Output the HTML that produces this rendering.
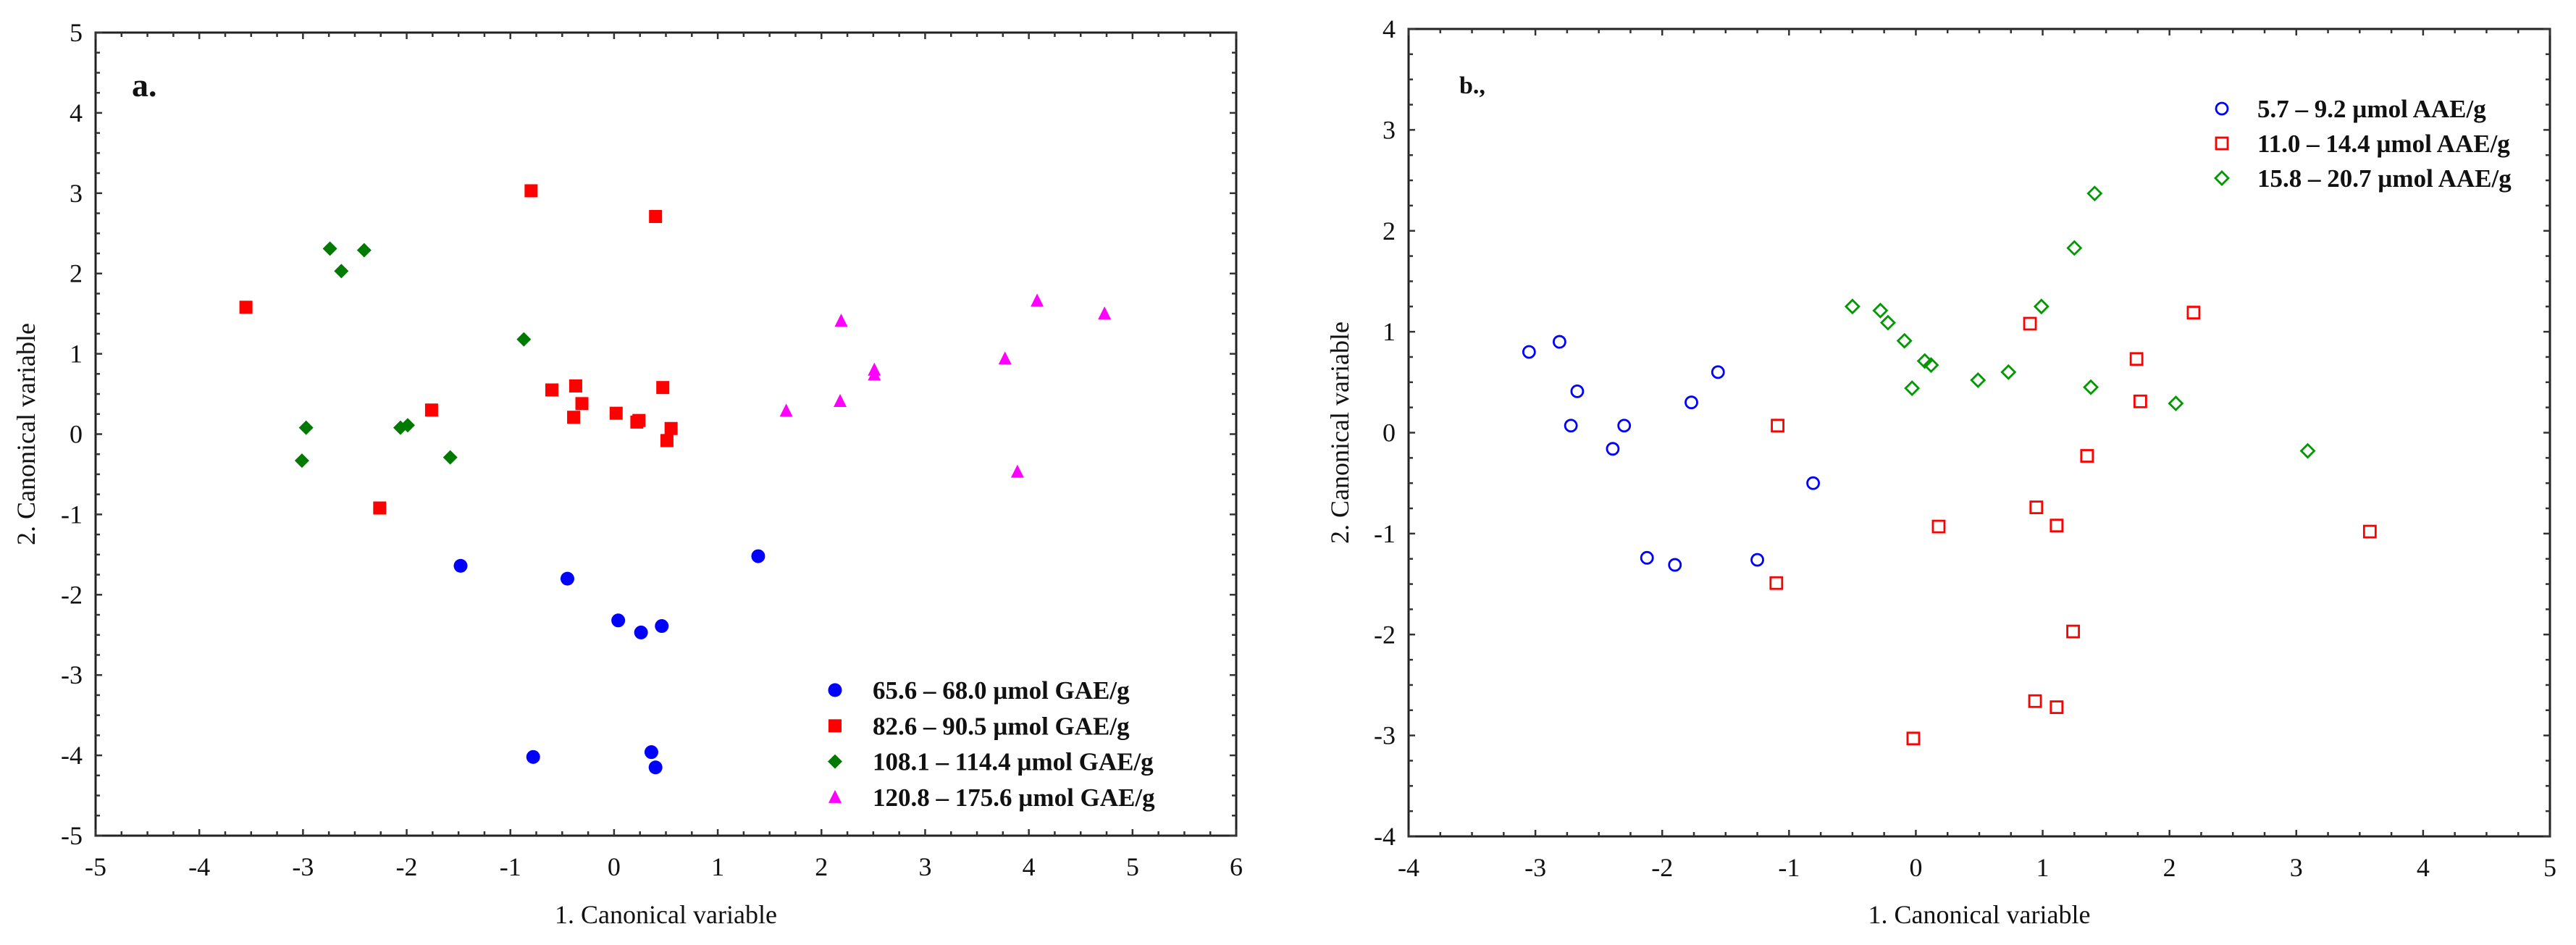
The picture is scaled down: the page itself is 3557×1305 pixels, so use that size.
<!DOCTYPE html>
<html><head><meta charset="utf-8"><style>
html,body{margin:0;padding:0;background:#fff}
svg{display:block}
text{font-family:"Liberation Serif",serif;fill:#111}
</style></head><body>
<svg id="chart" width="3557" height="1305" viewBox="0 0 3557 1305" xmlns="http://www.w3.org/2000/svg"></svg>
<script>
// Panel a data
const aBlueX=[-1.48,-0.45,0.04,0.26,0.46,1.39,-0.78,0.36,0.40];
const aBlueY=[-1.64,-1.80,-2.32,-2.47,-2.39,-1.52,-4.02,-3.96,-4.15];
const aRedX=[-3.55,-0.80,0.40,-1.76,-2.26,-0.60,-0.37,-0.31,-0.39,0.02,0.22,0.24,0.47,0.55,0.51];
const aRedY=[1.58,3.03,2.71,0.30,-0.92,0.55,0.60,0.38,0.21,0.26,0.15,0.17,0.58,0.07,-0.08];
const aGreenX=[-2.74,-2.41,-2.63,-0.87,-2.97,-3.01,-2.06,-1.99,-1.58];
const aGreenY=[2.31,2.29,2.03,1.18,0.08,-0.33,0.08,0.11,-0.29];
const aMagX=[1.66,2.18,2.19,2.51,2.51,3.77,4.08,4.73,3.89];
const aMagY=[0.29,0.41,1.41,0.80,0.74,0.94,1.66,1.50,-0.47];
const aXTicks=[-5,-4,-3,-2,-1,0,1,2,3,4,5,6];
const aYTicks=[-5,-4,-3,-2,-1,0,1,2,3,4,5];
const aLegend=["65.6 – 68.0  µmol GAE/g","82.6 – 90.5 µmol GAE/g","108.1 – 114.4 µmol GAE/g","120.8 – 175.6 µmol GAE/g"];
// Panel b data
const bBlueX=[-3.05,-2.81,-2.67,-2.72,-2.30,-2.39,-1.77,-1.56,-0.81,-2.12,-1.90,-1.25];
const bBlueY=[0.80,0.90,0.41,0.07,0.07,-0.16,0.30,0.60,-0.50,-1.24,-1.31,-1.26];
const bRedX=[-1.09,-1.10,0.18,-0.02,0.90,0.95,1.11,1.35,1.24,0.94,1.11,1.74,1.77,2.19,3.58];
const bRedY=[0.07,-1.49,-0.93,-3.03,1.08,-0.74,-0.92,-0.23,-1.97,-2.66,-2.72,0.73,0.31,1.19,-0.98];
const bGreenX=[-0.50,-0.28,-0.22,-0.09,-0.03,0.07,0.12,0.49,0.73,0.99,1.25,1.41,1.38,2.05,3.09];
const bGreenY=[1.25,1.21,1.09,0.91,0.44,0.71,0.67,0.52,0.60,1.25,1.83,2.37,0.45,0.29,-0.18];
const bXTicks=[-4,-3,-2,-1,0,1,2,3,4,5];
const bYTicks=[-4,-3,-2,-1,0,1,2,3,4];
const bLegend=["5.7 – 9.2 µmol AAE/g","11.0 – 14.4 µmol AAE/g","15.8 – 20.7 µmol AAE/g"];

const NS="http://www.w3.org/2000/svg";
const FF='"Liberation Serif", "DejaVu Serif", serif';
const svg=document.getElementById('chart');
function mk(tag,attrs,parent){const e=document.createElementNS(NS,tag);for(const k in attrs)e.setAttribute(k,attrs[k]);if(tag==='text')e.setAttribute('font-family',FF);(parent||svg).appendChild(e);return e;}

function marker(g,shape,cx,cy,color,hollow){
  let e;
  const fill=hollow?'none':color, st=hollow?color:'none', sw=hollow?2.8:0;
  if(shape==='circle'){e=mk('circle',{cx:cx,cy:cy,r:hollow?8:9.5,fill:fill,stroke:st,'stroke-width':sw},g);}
  else if(shape==='square'){const s=hollow?16:18;e=mk('rect',{x:cx-s/2,y:cy-s/2,width:s,height:s,fill:fill,stroke:st,'stroke-width':sw},g);}
  else if(shape==='diamond'){const s=hollow?9:10;e=mk('polygon',{points:`${cx},${cy-s} ${cx+s},${cy} ${cx},${cy+s} ${cx-s},${cy}`,fill:fill,stroke:st,'stroke-width':sw},g);}
  else {e=mk('polygon',{points:`${cx},${cy-10} ${cx+9},${cy+8} ${cx-9},${cy+8}`,fill:fill},g);}
  return e;
}

function panel(o){
  const g=mk('g',{});
  
  
  const X=v=>o.x0+(v-o.xmin)/(o.xmax-o.xmin)*(o.x1-o.x0);
  const Y=v=>o.y1-(v-o.ymin)/(o.ymax-o.ymin)*(o.y1-o.y0);
  const frame=mk('rect',{x:o.x0,y:o.y0,width:o.x1-o.x0,height:o.y1-o.y0,fill:'none',stroke:'#222','stroke-width':3},g);
  
  
  for(let v=o.xmin;v<=o.xmax+1e-9;v+=0.25){
    const major=Math.abs(v-Math.round(v))<1e-6, L=major?9:6, px=X(v);
    mk('line',{x1:px,x2:px,y1:o.y1,y2:o.y1-L,stroke:'#333','stroke-width':2.5},g);
    mk('line',{x1:px,x2:px,y1:o.y0,y2:o.y0+L,stroke:'#333','stroke-width':2.5},g);
  }
  for(let v=o.ymin;v<=o.ymax+1e-9;v+=0.25){
    const major=Math.abs(v-Math.round(v))<1e-6, L=major?9:6, py=Y(v);
    mk('line',{x1:o.x0,x2:o.x0+L,y1:py,y2:py,stroke:'#333','stroke-width':2.5},g);
    mk('line',{x1:o.x1,x2:o.x1-L,y1:py,y2:py,stroke:'#333','stroke-width':2.5},g);
  }
  o.xt.forEach(v=>{const t=mk('text',{x:X(v),y:o.y1+55,'text-anchor':'middle','font-size':36},g);t.textContent=v;
    
    });
  o.yt.forEach(v=>{const t=mk('text',{x:o.x0-18,y:Y(v)+12,'text-anchor':'end','font-size':36},g);t.textContent=v;
    
    });
  const xt=mk('text',{x:(o.x0+o.x1)/2,y:1275,'text-anchor':'middle','font-size':36},g);xt.textContent='1. Canonical variable';
  
  
  const yt=mk('text',{x:0,y:0,'text-anchor':'middle','font-size':36,transform:`translate(${o.ytx},${(o.y0+o.y1)/2}) rotate(-90)`},g);yt.textContent='2. Canonical variable';
  
  
  const pl=mk('text',{x:o.labx,y:o.laby,'font-size':o.labsize,'font-weight':'bold'},g);pl.textContent=o.label;
  
  
  o.series.forEach((s,i)=>{
    s.xs.forEach((xv,j)=>{const m=marker(g,s.shape,X(xv),Y(s.ys[j]),s.color,o.hollow);
      
      });
    const ly=o.legy+i*o.legdy;
    const lm=marker(g,s.shape,o.legmx,ly,s.color,o.hollow);
    
    
    const lt=mk('text',{x:o.legtx,y:ly+12,'font-size':35,'font-weight':'600','xml:space':'preserve'},g);
    lt.textContent=s.label;
    
    
  });
}

panel({name:'panel-a',x0:132,x1:1707,y0:45,y1:1154,xmin:-5,xmax:6,ymin:-5,ymax:5,xt:aXTicks,yt:aYTicks,
  ytx:48,label:'a.',labx:182,laby:133,labsize:46,hollow:false,legy:953,legdy:49.3,legmx:1153,legtx:1205,
  series:[{key:'blue',shape:'circle',color:'#0000ff',xs:aBlueX,ys:aBlueY,label:aLegend[0]},
          {key:'red',shape:'square',color:'#ff0000',xs:aRedX,ys:aRedY,label:aLegend[1]},
          {key:'green',shape:'diamond',color:'#007a00',xs:aGreenX,ys:aGreenY,label:aLegend[2]},
          {key:'magenta',shape:'triangle',color:'#ff00ff',xs:aMagX,ys:aMagY,label:aLegend[3]}]});

panel({name:'panel-b',x0:1945,x1:3521,y0:40,y1:1155,xmin:-4,xmax:5,ymin:-4,ymax:4,xt:bXTicks,yt:bYTicks,
  ytx:1862,label:'b.,',labx:2015,laby:129,labsize:34,hollow:true,legy:150,legdy:48,legmx:3068,legtx:3117,
  series:[{key:'blue',shape:'circle',color:'#0000ff',xs:bBlueX,ys:bBlueY,label:bLegend[0]},
          {key:'red',shape:'square',color:'#ff0000',xs:bRedX,ys:bRedY,label:bLegend[1]},
          {key:'green',shape:'diamond',color:'#009900',xs:bGreenX,ys:bGreenY,label:bLegend[2]}]});
</script>
</body></html>
